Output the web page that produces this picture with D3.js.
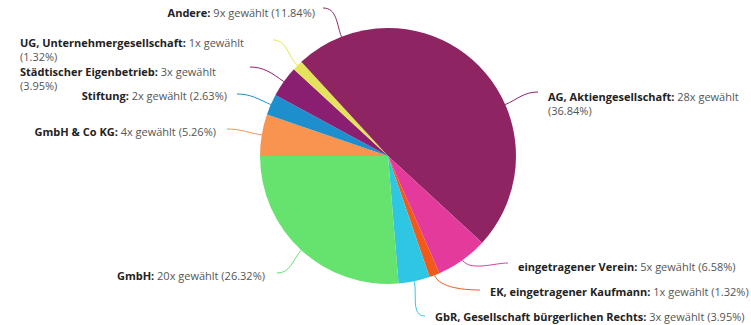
<!DOCTYPE html>
<html>
<head>
<meta charset="utf-8">
<script src="https://cdn.jsdelivr.net/npm/d3@7/dist/d3.min.js"></script>
<style>
  html, body { margin: 0; padding: 0; background: #fff; }
  svg { display: block; }
  text { font-family: "Open Sans", "Noto Sans", sans-serif; font-size: 11px; }
</style>
</head>
<body>
<svg id="chart" width="751" height="325"></svg>
<script>
// Rechtsformen und wie oft sie gewählt wurden
const categories = [
  "AG, Aktiengesellschaft",
  "eingetragener Verein",
  "EK, eingetragener Kaufmann",
  "GbR, Gesellschaft bürgerlichen Rechts",
  "GmbH",
  "GmbH & Co KG",
  "Stiftung",
  "Städtischer Eigenbetrieb",
  "UG, Unternehmergesellschaft",
  "Andere"
];
const counts = [28, 5, 1, 3, 20, 4, 2, 3, 1, 9];
const colors = [
  "#8e2462", "#e33a9c", "#f25a1c", "#2ec6e2", "#66e26f",
  "#f99350", "#1d8fcc", "#8a1f72", "#e5e35c", "#8e2462"
];

// Label placement: connector end point, text origin, anchor, wrap percentage onto second line
const labelLayout = [
  { end: [538, 92],  text: [548, 101], anchor: "start", wrap: true },
  { end: [508, 263], text: [518, 271], anchor: "start", wrap: false },
  { end: [480, 290], text: [490, 296], anchor: "start", wrap: false },
  { end: [425, 316], text: [435, 321], anchor: "start", wrap: false },
  { end: [277, 273], text: [265, 280], anchor: "end",   wrap: false },
  { end: [227, 129], text: [216, 136], anchor: "end",   wrap: false },
  { end: [237, 94],  text: [227, 100], anchor: "end",   wrap: false },
  { end: [250, 67],  text: [20, 76],   anchor: "start", wrap: true },
  { end: [273, 40],  text: [20, 47],   anchor: "start", wrap: true },
  { end: [323, 8],   text: [315, 17],  anchor: "end",   wrap: false }
];

const cx = 388, cy = 156, radius = 128;
const total = d3.sum(counts);
const fmtPct = v => (v * 100).toFixed(2) + "%";

const svg = d3.select("#chart");
const g = svg.append("g").attr("transform", `translate(${cx},${cy})`);

const pie = d3.pie().sort(null).value(d => d)(counts);
const arc = d3.arc().innerRadius(0).outerRadius(radius);

g.selectAll("path.slice")
  .data(pie)
  .join("path")
  .attr("class", "slice")
  .attr("d", arc)
  .attr("fill", (d, i) => colors[i]);

// Connectors from slice edge to label
const conn = svg.append("g");
pie.forEach((d, i) => {
  const a = (d.startAngle + d.endAngle) / 2;
  const sx = cx + radius * Math.sin(a), sy = cy - radius * Math.cos(a);
  const [ex, ey] = labelLayout[i].end;
  const c1x = cx + (radius + 14) * Math.sin(a), c1y = cy - (radius + 14) * Math.cos(a);
  const dir = ex > cx ? -1 : 1;
  const c2x = ex + dir * 14, c2y = ey;
  conn.append("path")
    .attr("d", `M${sx},${sy}C${c1x},${c1y} ${c2x},${c2y} ${ex},${ey}`)
    .attr("fill", "none")
    .attr("stroke", colors[i])
    .attr("stroke-width", 1);
});

// Labels
const labels = svg.append("g");
pie.forEach((d, i) => {
  const L = labelLayout[i];
  const t = labels.append("text")
    .attr("x", L.text[0]).attr("y", L.text[1])
    .attr("text-anchor", L.anchor);
  t.append("tspan").attr("font-weight", "bold").attr("fill", "#222").text(categories[i] + ":");
  const pct = "(" + fmtPct(counts[i] / total) + ")";
  if (L.wrap) {
    t.append("tspan").attr("fill", "#555").text(" " + counts[i] + "x gewählt");
    labels.append("text")
      .attr("x", L.text[0]).attr("y", L.text[1] + 14)
      .attr("text-anchor", L.anchor)
      .attr("fill", "#555")
      .text(pct);
  } else {
    t.append("tspan").attr("fill", "#555").text(" " + counts[i] + "x gewählt " + pct);
  }
});
</script>
</body>
</html>
